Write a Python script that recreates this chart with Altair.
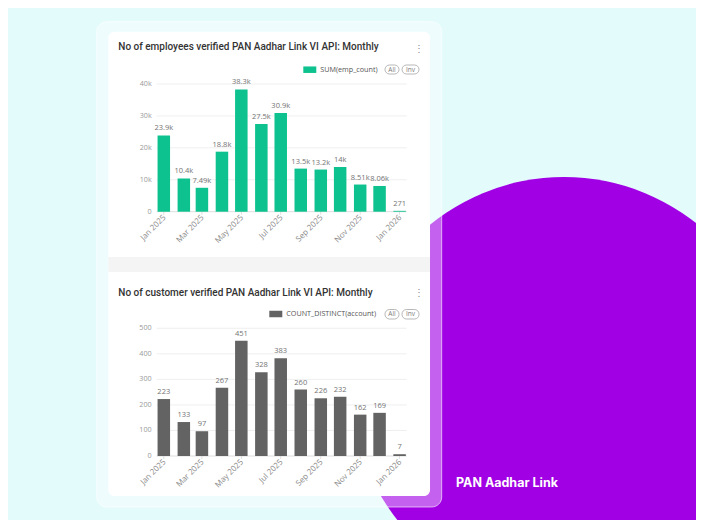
import altair as alt
import pandas as pd

# ---------------- data ----------------
months = ["2025-01-01", "2025-02-01", "2025-03-01", "2025-04-01", "2025-05-01",
          "2025-06-01", "2025-07-01", "2025-08-01", "2025-09-01", "2025-10-01",
          "2025-11-01", "2025-12-01", "2026-01-01"]
emp_count = [23900, 10400, 7490, 18800, 38300, 27500, 30900, 13500, 13200,
             14000, 8510, 8060, 271]
accounts = [223, 133, 97, 267, 451, 328, 383, 260, 226, 232, 162, 169, 7]

tick_months = ["2025-01-01", "2025-03-01", "2025-05-01", "2025-07-01",
               "2025-09-01", "2025-11-01", "2026-01-01"]
tick_labels = ["Jan 2025", "Mar 2025", "May 2025", "Jul 2025",
               "Sep 2025", "Nov 2025", "Jan 2026"]
x_domain = ["2024-12-21", "2026-01-12"]
emp_ticks = [0, 10000, 20000, 30000, 40000]
acc_ticks = [0, 100, 200, 300, 400, 500]

top_title = "No of employees verified PAN Aadhar Link VI API: Monthly"
bottom_title = "No of customer verified PAN Aadhar Link VI API: Monthly"
emp_series = "SUM(emp_count)"
acc_series = "COUNT_DISTINCT(account)"
pill_labels = ["All", "Inv"]
brand_text = "PAN Aadhar Link"


def ms(s):
    return int(pd.Timestamp(s, tz="UTC").timestamp() * 1000)


one = pd.DataFrame({"k": [0]})
LABEL_FONT = "Open Sans"
TITLE_FONT = "Roboto"


def rect(x, x2, y, y2, **kw):
    return alt.Chart(one).mark_rect(**kw).encode(
        x=alt.value(x), x2=alt.value(x2), y=alt.value(y), y2=alt.value(y2))


def text(t, x, y, **kw):
    return alt.Chart(one).mark_text(text=t, **kw).encode(x=alt.value(x), y=alt.value(y))


def panel(values, series, color, ticks, y_max, y_range, legend_x, legend_y, fmt):
    df = pd.DataFrame({"month": months, "value": values, "series": series})
    xt = pd.DataFrame({"t": tick_months, "label": tick_labels})
    yt = pd.DataFrame({"tick": ticks})
    xscale = alt.Scale(type="utc", domain=[ms(d) for d in x_domain],
                       range=[143.7, 403.7], nice=False)
    yscale = alt.Scale(domain=[0, y_max], range=y_range, nice=False)
    x_start = alt.X(datum=ms(x_domain[0]), type="temporal", scale=xscale, axis=None)
    x_end = alt.X2(datum=ms(x_domain[1]))
    y_zero = alt.Y(datum=0, type="quantitative", axis=None)

    # horizontal grid lines (drawn through the panel's own scales)
    grid = alt.Chart(yt[yt["tick"] > 0]).mark_rule(
        color="#ebebeb", strokeWidth=0.8).encode(
        y=alt.Y("tick:Q", scale=yscale, axis=None), x=x_start, x2=x_end)
    bars = alt.Chart(df).mark_bar(size=12.5).encode(
        x=alt.X("month:T", axis=None),
        y=alt.Y("value:Q", axis=None),
        color=alt.Color("series:N", scale=alt.Scale(domain=[series], range=[color]),
                        legend=alt.Legend(orient="none", legendX=legend_x,
                                          legendY=legend_y, title=None, padding=0,
                                          symbolType="M-1,-0.5H1V0.5H-1Z",
                                          symbolSize=169, symbolStrokeWidth=0,
                                          labelFontSize=7.2, labelColor="#555555",
                                          labelFont=LABEL_FONT, labelOffset=4)),
    )
    labels = alt.Chart(df).mark_text(baseline="bottom", dy=-3, fontSize=7.5,
                                     color="#737373", font=LABEL_FONT).encode(
        x=alt.X("month:T", axis=None),
        y=alt.Y("value:Q", axis=None),
        text=alt.Text("value:Q", format=fmt),
    )
    # x axis: baseline, ticks and rotated labels
    x_line = alt.Chart(one).mark_rule(color="#d4d4d4", strokeWidth=0.8).encode(
        y=y_zero, x=x_start, x2=x_end)
    x_ticks = alt.Chart(xt).mark_tick(orient="vertical", size=3, thickness=0.8,
                                      color="#c8c8c8", yOffset=1.5).encode(
        x=alt.X("t:T", axis=None), y=y_zero)
    x_labels = alt.Chart(xt).mark_text(angle=315, align="right", baseline="middle",
                                       yOffset=5, xOffset=1, fontSize=8,
                                       color="#8a8a8a", font=LABEL_FONT).encode(
        x=alt.X("t:T", axis=None), y=y_zero, text="label:N")
    # y axis labels
    y_labels = alt.Chart(yt).mark_text(align="right", baseline="middle", dx=-5,
                                       fontSize=7.2, color="#9a9a9a",
                                       font=LABEL_FONT).encode(
        y=alt.Y("tick:Q", axis=None), x=x_start,
        text=alt.Text("tick:Q", format="~s"))
    return alt.layer(grid, x_line, x_ticks, bars, labels, x_labels, y_labels)


def pills(y, y2):
    out = []
    xs = [(377, 391), (394, 411)]
    for lab, (a, b) in zip(pill_labels, xs):
        out.append(rect(a, b, y, y2, fill="white", stroke="#9a9a9a",
                        strokeWidth=0.7, cornerRadius=4.5))
        out.append(text(lab, (a + b) / 2, (y + y2) / 2, fontSize=6.5,
                        color="#7a7a7a", font=LABEL_FONT, baseline="middle"))
    return out


circle = alt.Chart(one).mark_circle(size=424 * 424, opacity=1, color="#a100e4").encode(
    x=alt.value(556), y=alt.value(381))

layers = [
    circle,
    rect(88.7, 433.7, 13.7, 499, fill="white", fillOpacity=0.38, stroke="white",
         strokeOpacity=0.6, strokeWidth=1, cornerRadius=10),
    rect(100.3, 422, 23.7, 488, fill="white", cornerRadius=6),
    rect(100.3, 422, 249, 264, fill="#f4f4f4"),
    text(top_title, 110.3, 39, align="left", baseline="middle", fontSize=10,
         fontWeight=500, color="#333333", font=TITLE_FONT),
    text("\u22ee", 411, 41, fontSize=10, color="#8a8a8a", baseline="middle"),
    text(bottom_title, 110.3, 285, align="left", baseline="middle", fontSize=10,
         fontWeight=500, color="#333333", font=TITLE_FONT),
    text("\u22ee", 411, 285, fontSize=10, color="#8a8a8a", baseline="middle"),
    *pills(57, 66),
    *pills(301.5, 311),
    panel(emp_count, emp_series, "#0dc28e", emp_ticks, 40000, [203.7, 76],
          295.3, 55.2, ".3~s"),
    panel(accounts, acc_series, "#636363", acc_ticks, 500, [448, 320.3],
          261.3, 299.5, "d"),
    text(brand_text, 448, 479, align="left", baseline="alphabetic", fontSize=12.5,
         fontWeight="bold", color="white", font="Inter"),
]

chart = alt.layer(*layers).resolve_scale(
    x="independent", y="independent", color="independent"
).properties(
    width=688, height=512, autosize=alt.AutoSizeParams(type="none"),
    padding=0, background="#e4fbfc"
).configure_view(stroke=None)

chart.save("out.html", embed_options={"renderer": "svg", "actions": False})
